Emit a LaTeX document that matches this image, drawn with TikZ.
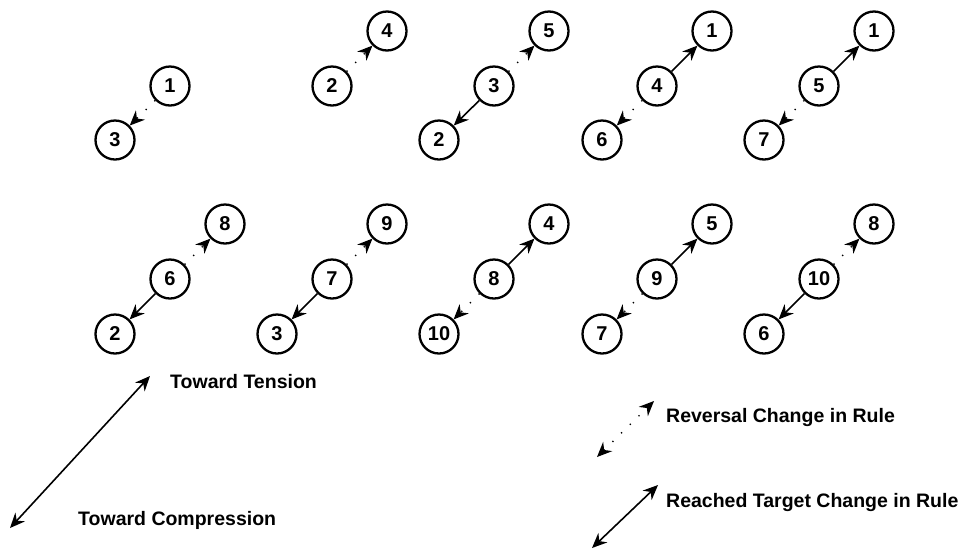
\documentclass[tikz,border=0pt]{standalone}
\usepackage{fontspec}
\setmainfont{Liberation Sans}
\usetikzlibrary{arrows.meta}
\tikzset{
  state/.style={circle, draw, line width=2.3pt, minimum size=39pt, inner sep=0pt,
                font=\fontsize{20}{20}\selectfont\bfseries},
  head/.style={-{Stealth[length=15pt,width=13pt,inset=5pt]}},
  twohead/.style={{Stealth[length=15pt,width=13pt,inset=5pt]}-{Stealth[length=15pt,width=13pt,inset=5pt]}},
  firm/.style={head, line width=1.6pt},
  loose/.style={head, line width=1.4pt, dash pattern=on 1.2pt off 11pt},
  legendtext/.style={anchor=west, inner sep=0pt, font=\fontsize{19.5}{19.5}\selectfont\bfseries}
}
\begin{document}
\begin{tikzpicture}[x=1pt, y=-1pt]
\useasboundingbox (0,0) rectangle (971,550);

% ---- upper row ----
\node[state] (c1) at (170,86) {1};
\node[state] (d1) at (115,140) {3};
\draw[loose] (c1) -- (d1);

\node[state] (c2) at (332,86) {2};
\node[state] (u2) at (387,31) {4};
\draw[loose] (c2) -- (u2);

\node[state] (c3) at (494,86) {3};
\node[state] (u3) at (549,31) {5};
\node[state] (d3) at (439,140) {2};
\draw[loose] (c3) -- (u3);
\draw[firm] (c3) -- (d3);

\node[state] (c4) at (657,86) {4};
\node[state] (u4) at (712,31) {1};
\node[state] (d4) at (602,140) {6};
\draw[firm] (c4) -- (u4);
\draw[loose] (c4) -- (d4);

\node[state] (c5) at (819,86) {5};
\node[state] (u5) at (874,31) {1};
\node[state] (d5) at (764,140) {7};
\draw[firm] (c5) -- (u5);
\draw[loose] (c5) -- (d5);

% ---- lower row ----
\node[state] (c6) at (170,279) {6};
\node[state] (u6) at (225,224) {8};
\node[state] (d6) at (115,334) {2};
\draw[loose] (c6) -- (u6);
\draw[firm] (c6) -- (d6);

\node[state] (c7) at (332,279) {7};
\node[state] (u7) at (387,224) {9};
\node[state] (d7) at (277,334) {3};
\draw[loose] (c7) -- (u7);
\draw[firm] (c7) -- (d7);

\node[state] (c8) at (494,279) {8};
\node[state] (u8) at (549,224) {4};
\node[state] (d8) at (439,334) {10};
\draw[firm] (c8) -- (u8);
\draw[loose] (c8) -- (d8);

\node[state] (c9) at (657,279) {9};
\node[state] (u9) at (712,224) {5};
\node[state] (d9) at (602,334) {7};
\draw[firm] (c9) -- (u9);
\draw[loose] (c9) -- (d9);

\node[state] (c10) at (819,279) {10};
\node[state] (u10) at (874,224) {8};
\node[state] (d10) at (764,334) {6};
\draw[loose] (c10) -- (u10);
\draw[firm] (c10) -- (d10);

% ---- legend ----
\coordinate (tens) at (150,376);
\coordinate (comp) at (10,528);
\draw[firm, twohead] (comp) -- (tens);
\node[legendtext] (ttens) at (170,382) {Toward Tension};
\node[legendtext] (tcomp) at (78,520) {Toward Compression};

\coordinate (revA) at (597,457);
\coordinate (revB) at (654,401);
\draw[loose, twohead] (revA) -- (revB);
\node[legendtext] (trev) at (666,417) {Reversal Change in Rule};

\coordinate (tgtA) at (592,548);
\coordinate (tgtB) at (658,485);
\draw[firm, twohead] (tgtA) -- (tgtB);
\node[legendtext] (ttgt) at (666,502) {Reached Target Change in Rule};
\end{tikzpicture}
\end{document}
